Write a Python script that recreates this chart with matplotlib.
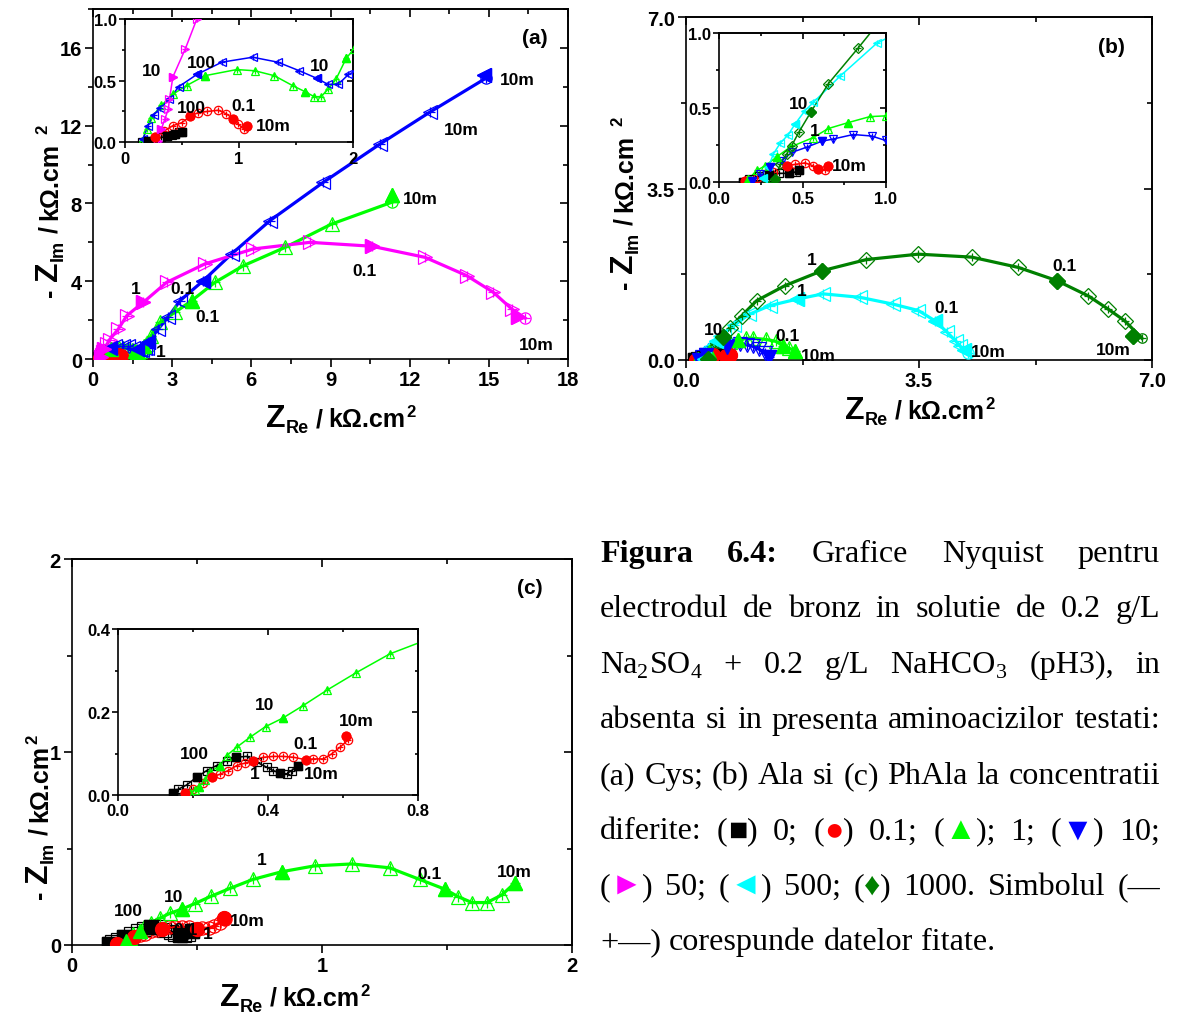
import numpy as np
import matplotlib
matplotlib.use("Agg")
import matplotlib.pyplot as plt
from matplotlib.ticker import MultipleLocator

W, H = 1178, 1020

plt.rcParams['font.family'] = ['Liberation Sans', 'DejaVu Sans']
plt.rcParams['font.weight'] = 'bold'
plt.rcParams['mathtext.fontset'] = 'custom'
plt.rcParams['mathtext.rm'] = 'Liberation Sans:bold'
plt.rcParams['mathtext.it'] = 'Liberation Sans:bold'
plt.rcParams['mathtext.bf'] = 'Liberation Sans:bold'

K, RED, GRN, BLU, MAG, CYN, DGR = 'k', '#ff0000', '#00ff00', '#0000ff', '#ff00ff', '#00ffff', '#008000'

# ---------------- (a) Cys ----------------
a_k_x = [0.15, 0.20, 0.26, 0.32, 0.37, 0.41, 0.44, 0.47, 0.50]
a_k_y = [0.00, 0.01, 0.025, 0.04, 0.05, 0.06, 0.07, 0.08, 0.085]
a_k_dec = [1, 4, 6, 8]

a_r_x = [0.20, 0.26, 0.34, 0.42, 0.50, 0.57, 0.64, 0.72, 0.82, 0.89, 0.95, 0.99, 1.04, 1.07]
a_r_y = [0.00, 0.04, 0.09, 0.135, 0.16, 0.21, 0.24, 0.25, 0.26, 0.23, 0.19, 0.15, 0.11, 0.13]
a_r_dec = [1, 5, 10, 13]

a_g_x = [0.15, 0.19, 0.23, 0.32, 0.42, 0.54, 0.70, 0.98, 1.14, 1.31, 1.47, 1.58, 1.66, 1.72,
         1.78, 1.85, 1.94, 2.01, 2.20, 2.54, 3.11, 3.74, 4.62, 5.70, 7.28, 9.04, 11.32]
a_g_y = [0.01, 0.11, 0.20, 0.30, 0.39, 0.46, 0.54, 0.59, 0.58, 0.54, 0.46, 0.41, 0.37, 0.37,
         0.43, 0.51, 0.68, 0.76, 1.20, 1.90, 2.40, 3.00, 3.94, 4.80, 5.74, 6.94, 8.45]
a_g_dec = [6, 11, 16, 21, 26]
a_g_end = (11.32, 8.06)

a_b_x = [0.16, 0.20, 0.25, 0.31, 0.39, 0.47, 0.63, 0.85, 1.12, 1.34, 1.53, 1.68, 1.78, 1.87,
         1.96, 2.03, 2.10, 2.47, 2.85, 3.30, 4.18, 5.25, 6.71, 8.73, 10.88, 12.77, 14.82]
a_b_y = [0.03, 0.135, 0.22, 0.28, 0.35, 0.45, 0.55, 0.65, 0.69, 0.65, 0.58, 0.52, 0.47, 0.47,
         0.55, 0.58, 0.86, 1.54, 2.16, 3.00, 4.03, 5.40, 7.12, 9.09, 11.06, 12.70, 14.60]
a_b_dec = [6, 11, 16, 20, 26]
a_b_end = (14.90, 14.45)

a_m_x = [0.20, 0.29, 0.32, 0.35, 0.38, 0.39, 0.42, 0.53, 0.63, 0.96, 1.28, 1.91, 2.79, 4.24,
         6.07, 8.22, 10.56, 12.58, 14.16, 15.17, 15.87, 16.12]
a_m_y = [0.00, 0.01, 0.11, 0.19, 0.27, 0.35, 0.53, 0.76, 1.00, 1.54, 2.23, 2.92, 3.94, 4.89,
         5.66, 6.00, 5.80, 5.23, 4.29, 3.43, 2.57, 2.14]
a_m_dec = [2, 6, 11, 16, 21]
a_m_end = (16.38, 2.10)

# ---------------- (b) Ala ----------------
b_k_x = [0.14, 0.18, 0.24, 0.30, 0.36, 0.42, 0.46, 0.48]
b_k_y = [0.00, 0.02, 0.04, 0.05, 0.06, 0.06, 0.07, 0.08]
b_k_dec = [0, 3, 5, 7]

b_r_x = [0.155, 0.225, 0.325, 0.405, 0.455, 0.515, 0.565, 0.595, 0.635, 0.655]
b_r_y = [0.01, 0.03, 0.07, 0.11, 0.12, 0.13, 0.11, 0.09, 0.085, 0.11]
b_r_dec = [0, 3, 7, 9]

b_g_x = [0.175, 0.225, 0.275, 0.345, 0.425, 0.565, 0.655, 0.775, 0.905, 1.00, 1.20, 1.35, 1.46, 1.55, 1.63]
b_g_y = [0.02, 0.08, 0.11, 0.17, 0.235, 0.30, 0.36, 0.40, 0.44, 0.445, 0.42, 0.38, 0.29, 0.24, 0.19]
b_g_dec = [0, 3, 7, 12, 14]

b_b_x = [0.195, 0.245, 0.305, 0.375, 0.435, 0.525, 0.615, 0.685, 0.805, 0.915, 1.00, 1.10, 1.18, 1.24]
b_b_y = [0.01, 0.055, 0.10, 0.145, 0.20, 0.235, 0.275, 0.29, 0.32, 0.31, 0.28, 0.22, 0.14, 0.06]
b_b_dec = [0, 2, 6, 13]

b_c_x = [0.265, 0.295, 0.325, 0.365, 0.415, 0.455, 0.515, 0.565, 0.725, 0.945, 1.26, 1.66, 2.06,
         2.61, 3.11, 3.49, 3.74, 3.92, 4.05, 4.12, 4.17]
b_c_y = [0.03, 0.10, 0.19, 0.26, 0.32, 0.39, 0.48, 0.535, 0.71, 0.93, 1.11, 1.24, 1.35,
         1.28, 1.14, 1.01, 0.80, 0.57, 0.39, 0.28, 0.20]
b_c_dec = [0, 5, 11, 16, 20]
b_c_end = (4.24, 0.15)

b_d_x = [0.30, 0.335, 0.365, 0.405, 0.435, 0.48, 0.55, 0.655, 0.835, 1.06, 1.49, 2.04, 2.71,
         3.49, 4.29, 4.99, 5.57, 6.04, 6.34, 6.59, 6.72]
b_d_y = [0.00, 0.02, 0.12, 0.19, 0.245, 0.34, 0.47, 0.66, 0.90, 1.21, 1.52, 1.82, 2.05,
         2.16, 2.10, 1.89, 1.62, 1.31, 1.04, 0.80, 0.50]
b_d_dec = [1, 6, 11, 16, 20]
b_d_end = (6.85, 0.44)

# ---------------- (c) PhAla ----------------
c_k_x = [0.147, 0.16, 0.182, 0.209, 0.236, 0.262, 0.289, 0.314, 0.342, 0.369, 0.396, 0.413,
         0.431, 0.449, 0.462, 0.48]
c_k_y = [0.006, 0.014, 0.024, 0.043, 0.059, 0.071, 0.083, 0.091, 0.093, 0.079, 0.067, 0.059,
         0.053, 0.051, 0.059, 0.071]
c_k_dec = [0, 3, 7, 12, 15]

c_r_x = [0.178, 0.20, 0.227, 0.249, 0.271, 0.293, 0.316, 0.338, 0.36, 0.387, 0.413, 0.44,
         0.467, 0.50, 0.52, 0.547, 0.569, 0.591, 0.613, 0.607]
c_r_y = [0.006, 0.014, 0.03, 0.043, 0.05, 0.059, 0.071, 0.077, 0.083, 0.091, 0.093, 0.093,
         0.091, 0.085, 0.087, 0.087, 0.099, 0.115, 0.133, 0.141]
c_r_dec = [0, 3, 8, 13, 19]

c_g_x = [0.19, 0.205, 0.215, 0.23, 0.244, 0.271, 0.289, 0.317, 0.351, 0.393, 0.438, 0.492, 0.557,
         0.633, 0.724, 0.84, 0.97, 1.12, 1.27, 1.39, 1.49, 1.545, 1.60, 1.66, 1.72, 1.77]
c_g_y = [0.004, 0.012, 0.02, 0.035, 0.055, 0.071, 0.095, 0.116, 0.139, 0.165, 0.185, 0.215, 0.253,
         0.294, 0.340, 0.38, 0.41, 0.42, 0.40, 0.34, 0.29, 0.25, 0.22, 0.22, 0.26, 0.32]
c_g_dec = [2, 5, 10, 15, 20, 25]

fig = plt.figure(figsize=(W / 100, H / 100), dpi=100)
rend = fig.canvas.get_renderer()


def box(l, t, r, b):
    return [l / W, 1 - b / H, (r - l) / W, (b - t) / H]


def style(ax, xlim, ylim, xmaj, ymaj, size, tl):
    ax.set_xlim(xlim)
    ax.set_ylim(ylim)
    ax.set_facecolor('white')
    ax.xaxis.set_major_locator(MultipleLocator(xmaj))
    ax.xaxis.set_minor_locator(MultipleLocator(xmaj / 2))
    ax.yaxis.set_major_locator(MultipleLocator(ymaj))
    ax.yaxis.set_minor_locator(MultipleLocator(ymaj / 2))
    ax.tick_params(which='both', direction='out', width=1.2, labelsize=size, pad=2)
    ax.tick_params(which='major', length=tl)
    ax.tick_params(which='minor', length=tl * 0.55)
    for s in ax.spines.values():
        s.set_linewidth(1.2)
    sx = ax.secondary_xaxis('top')
    sx.xaxis.set_major_locator(MultipleLocator(xmaj))
    sx.xaxis.set_minor_locator(MultipleLocator(xmaj / 2))
    sx.tick_params(which='both', direction='in', width=1.2, labeltop=False)
    sx.tick_params(which='major', length=tl)
    sx.tick_params(which='minor', length=tl * 0.55)
    sy = ax.secondary_yaxis('right')
    sy.yaxis.set_major_locator(MultipleLocator(ymaj))
    sy.yaxis.set_minor_locator(MultipleLocator(ymaj / 2))
    sy.tick_params(which='both', direction='in', width=1.2, labelright=False)
    sy.tick_params(which='major', length=tl)
    sy.tick_params(which='minor', length=tl * 0.55)
    for sec in (sx, sy):
        for s in sec.spines.values():
            s.set_linewidth(1.2)


def series(ax, x, y, dec, c, mk, end=None, lw=2.3, ms=9.5):
    fx, fy = list(x), list(y)
    if end is not None:
        fx[-1], fy[-1] = end
    ax.plot(fx, fy, '-', color=c, lw=lw, zorder=2)
    ax.plot(fx, fy, ls='none', marker='+', ms=ms * 0.75, mec=c, mew=0.9, zorder=3)
    ax.plot(x, y, ls='none', marker=mk, ms=ms, mfc='none', mec=c, mew=0.9, zorder=3)
    ax.plot(np.take(x, dec), np.take(y, dec), ls='none', marker=mk, ms=ms * 1.05,
            color=c, zorder=4)
    if end is not None:
        ax.plot(end[0], end[1], marker='o', ms=ms * 0.85, mfc='none', mec=c, mew=0.9, zorder=4)


def notes(ax, items, fs=12.5):
    for s, x, y in items:
        ax.text(x, y, s, ha='center', va='center', fontsize=fs, fontweight='bold', zorder=6)


def put_runs(x0, y0, parts, rot=0):
    pos = 0.0
    for p in parts:
        if isinstance(p, (int, float)):
            pos += p
            continue
        s, size, shift = p
        if rot == 0:
            xy = ((x0 + pos) / W, 1 - (y0 - shift) / H)
        else:
            xy = ((x0 - shift) / W, 1 - (y0 - pos) / H)
        t = fig.text(xy[0], xy[1], s, fontsize=size, fontweight='bold', rotation=rot,
                     rotation_mode='anchor', ha='left', va='baseline')
        bb = t.get_window_extent(rend)
        pos += bb.width if rot == 0 else bb.height


# ---------- panel (a) ----------
ax = fig.add_axes(box(93, 10, 568, 360))
style(ax, (0, 18), (0, 18), 3, 4, 14.5, 6)
for x, y, d, c, m, e in [(a_k_x, a_k_y, a_k_dec, K, 's', None),
                         (a_r_x, a_r_y, a_r_dec, RED, 'o', None),
                         (a_g_x, a_g_y, a_g_dec, GRN, '^', a_g_end),
                         (a_b_x, a_b_y, a_b_dec, BLU, '<', a_b_end),
                         (a_m_x, a_m_y, a_m_dec, MAG, '>', a_m_end)]:
    series(ax, x, y, d, c, m, e)
notes(ax, [("1", 1.63, 3.6), ("0.1", 3.41, 3.6), ("0.1", 4.32, 2.16), ("0.1", 10.27, 4.53),
           ("1", 2.58, 0.41), ("10m", 16.07, 14.4), ("10m", 13.95, 11.78),
           ("10m", 12.39, 8.28), ("10m", 16.79, 0.72)])
ax.text(0.93, 0.92, "(a)", transform=ax.transAxes, ha='center', va='center', fontsize=15)

ins = fig.add_axes(box(125, 20, 353, 143.3))
style(ins, (0, 2), (0, 1), 1, 0.5, 12, 4)
for x, y, d, c, m, e in [(a_k_x, a_k_y, a_k_dec, K, 's', None),
                         (a_r_x, a_r_y, a_r_dec, RED, 'o', None),
                         (a_g_x, a_g_y, a_g_dec, GRN, '^', a_g_end),
                         (a_b_x, a_b_y, a_b_dec, BLU, '<', a_b_end),
                         (a_m_x, a_m_y, a_m_dec, MAG, '>', a_m_end)]:
    series(ins, x, y, d, c, m, e, lw=1.1, ms=6)
notes(ins, [("10", 0.23, 0.58), ("100", 0.67, 0.65), ("10", 1.71, 0.62),
            ("100", 0.58, 0.28), ("0.1", 1.04, 0.30), ("10m", 1.30, 0.135)])

# ---------- panel (b) ----------
ax = fig.add_axes(box(686, 18, 1152, 361))
style(ax, (0, 7), (0, 7), 3.5, 3.5, 14.5, 6)
b_sets = [(b_k_x, b_k_y, b_k_dec, K, 's', None),
          (b_r_x, b_r_y, b_r_dec, RED, 'o', None),
          (b_g_x, b_g_y, b_g_dec, GRN, '^', None),
          (b_b_x, b_b_y, b_b_dec, BLU, 'v', None),
          (b_c_x, b_c_y, b_c_dec, CYN, '<', b_c_end),
          (b_d_x, b_d_y, b_d_dec, DGR, 'D', b_d_end)]
for x, y, d, c, m, e in b_sets:
    series(ax, x, y, d, c, m, e, ms=8 if m == 'D' else 9.5)
notes(ax, [("1", 1.89, 2.06), ("1", 1.74, 1.41), ("0.1", 5.69, 1.92), ("0.1", 3.92, 1.07),
           ("0.1", 1.53, 0.49), ("10", 0.41, 0.62), ("10m", 1.99, 0.09),
           ("10m", 4.54, 0.17), ("10m", 6.42, 0.22)])
ax.text(0.914, 0.913, "(b)", transform=ax.transAxes, ha='center', va='center', fontsize=15)

ins = fig.add_axes(box(719.3, 34, 885.7, 183.3))
style(ins, (0, 1), (0, 1), 0.5, 0.5, 12, 4)
for x, y, d, c, m, e in b_sets:
    series(ins, x, y, d, c, m, e, lw=1.1, ms=5 if m == 'D' else 6)
notes(ins, [("10", 0.475, 0.53), ("1", 0.575, 0.345), ("10m", 0.78, 0.11)])

# ---------- panel (c) ----------
ax = fig.add_axes(box(72, 560, 572, 946))
style(ax, (0, 2), (0, 2), 1, 1, 14.5, 6)
c_sets = [(c_k_x, c_k_y, c_k_dec, K, 's', None),
          (c_r_x, c_r_y, c_r_dec, RED, 'o', None),
          (c_g_x, c_g_y, c_g_dec, GRN, '^', None)]
for x, y, d, c, m, e in c_sets:
    series(ax, x, y, d, c, m, e)
notes(ax, [("1", 0.76, 0.445), ("0.1", 1.43, 0.37), ("10m", 1.77, 0.38), ("10", 0.405, 0.25),
           ("100", 0.225, 0.178), ("10m", 0.70, 0.126), ("0.1", 0.455, 0.078),
           ("1", 0.545, 0.062)])
ax.text(0.916, 0.927, "(c)", transform=ax.transAxes, ha='center', va='center', fontsize=15)

ins = fig.add_axes(box(118.3, 630, 418.3, 796))
style(ins, (0, 0.8), (0, 0.4), 0.4, 0.2, 12, 4)
for x, y, d, c, m, e in c_sets:
    series(ins, x, y, d, c, m, e, lw=1.1, ms=6)
notes(ins, [("10", 0.391, 0.219), ("10m", 0.636, 0.179), ("0.1", 0.498, 0.123),
            ("100", 0.204, 0.099), ("1", 0.364, 0.051), ("10m", 0.542, 0.051)])

# ---------- axis titles ----------
lab_x = [("Z", 23, 0), ("Re", 13, -6), 7, ("/", 18, 0), 6, ("kΩ.cm", 18, 0), 1, ("2", 12, 10)]
put_runs(266, 427, lab_x)
put_runs(845, 419, lab_x)
put_runs(220, 1006, lab_x)
lab_y = [("-", 18, 0), 8, ("Z", 23, 0), ("Im", 13, -6), 7, ("/", 18, 0), 6, ("kΩ.cm", 18, 0),
         9, ("2", 12, 10)]
put_runs(57, 297, lab_y, rot=90)
put_runs(632, 289, lab_y, rot=90)
lab_yc = lab_y[:-2] + [1, ("2", 12, 10)]
put_runs(47, 899, lab_yc, rot=90)

# ---------- caption ----------
SYM = {'■': K, '●': RED, '▲': GRN, '▼': BLU, '►': MAG, '◄': CYN, '♦': DGR}
cap = ["*Figura *6.4: Grafice Nyquist pentru",
       "electrodul de bronz in solutie de 0.2 g/L",
       "Na_2SO_4 + 0.2 g/L NaHCO_3 (pH3), in",
       "absenta si in presenta aminoacizilor testati:",
       "(a) Cys; (b) Ala si (c) PhAla la concentratii",
       "diferite: (■) 0; (●) 0.1; (▲); 1; (▼) 10;",
       "(►) 50; (◄) 500; (♦) 1000. Simbolul (—",
       "+—) corespunde datelor fitate."]
X0, X1 = 600, 1160
SERIF = ['Liberation Serif', 'DejaVu Sans']

probe = fig.text(0, 0, cap[-1], fontsize=20, family=SERIF, fontweight='normal')
cap_fs = 20 * 395 / probe.get_window_extent(rend).width
probe.remove()


def word_runs(tok):
    bold = tok.startswith('*')
    tok = tok.lstrip('*')
    runs, buf = [], ''
    i = 0
    while i < len(tok):
        ch = tok[i]
        if ch in SYM or ch == '_':
            if buf:
                runs.append((buf, K, False))
                buf = ''
            if ch == '_':
                runs.append((tok[i + 1], K, True))
                i += 1
            else:
                runs.append((ch, SYM[ch], False))
        else:
            buf += ch
        i += 1
    if buf:
        runs.append((buf, K, False))
    return runs, bold


for i, line in enumerate(cap):
    yb = 562 + i * 55.5
    words = []
    for tok in line.split(' '):
        runs, bold = word_runs(tok)
        objs = []
        for s, c, sub in runs:
            dy = 0.16 * cap_fs * 100 / 72 if sub else 0
            t = fig.text(0, 1 - (yb + dy) / H, s, color=c,
                         fontsize=cap_fs * (0.68 if sub else 1), family=SERIF,
                         fontweight='bold' if bold else 'normal',
                         ha='left', va='baseline')
            objs.append((t, t.get_window_extent(rend).width + (1 if sub else 0)))
        words.append(objs)
    widths = [sum(w for _, w in o) for o in words]
    if i < len(cap) - 1:
        gap = (X1 - X0 - sum(widths)) / (len(words) - 1)
    else:
        gap = 0.25 * cap_fs * 100 / 72
    x = X0
    for o, wsum in zip(words, widths):
        for t, w in o:
            t.set_x(x / W)
            x += w
        x += gap

fig.savefig("out.png", dpi=100)
